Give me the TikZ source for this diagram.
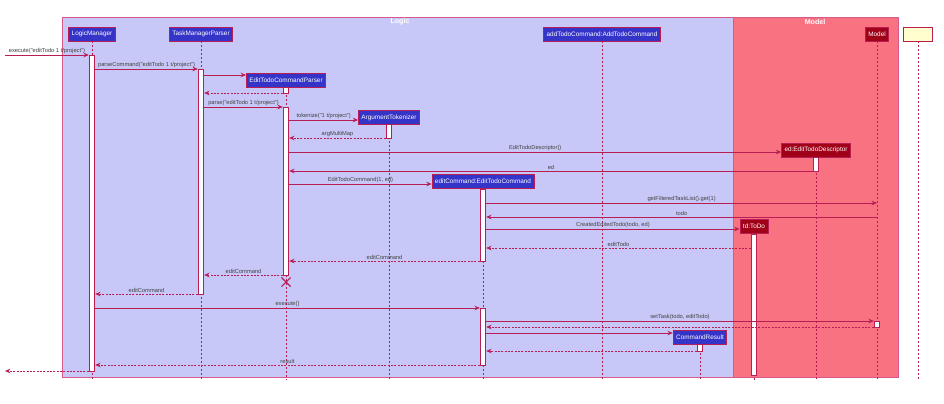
\documentclass[tikz,border=0pt]{standalone}
\usepackage{fontspec}
\setmainfont{Liberation Sans}
\usepackage{tikz}
\usetikzlibrary{arrows.meta,shapes.misc}
\usepackage{xcolor}

\definecolor{lnc}{RGB}{184,30,84}
\definecolor{frmc}{RGB}{214,90,140}
\definecolor{logicbg}{RGB}{200,200,248}
\definecolor{modelbg}{RGB}{248,114,130}
\definecolor{bluebox}{RGB}{52,52,200}
\definecolor{redbox}{RGB}{160,0,24}
\definecolor{yelbox}{RGB}{254,254,206}

\newcommand\mkact[4]{\node[actbar, minimum height={(#4-#3)*0.75pt}] (#1) at (#2,{(#3+#4)/2}) {};}

\begin{document}
\begin{tikzpicture}[x=0.75pt,y=-0.75pt,
    part/.style={draw=lnc, fill=bluebox, text=white, font=\fontsize{4.8}{5}\selectfont,
      minimum height=10.5pt, inner xsep=2.2pt, inner ysep=0pt, line width=0.6pt},
    mpart/.style={part, fill=redbox},
    actbar/.style={draw=lnc, fill=white, minimum width=4.2pt, inner sep=0pt, line width=0.6pt},
    life/.style={lnc, line width=0.5pt, dash pattern=on 1.5pt off 1.5pt},
    msg/.style={lnc, line width=0.55pt, -{Stealth[length=4pt,width=3.4pt]}},
    ret/.style={msg, dash pattern=on 1.5pt off 1pt},
    lbl/.style={font=\fontsize{4.3}{5}\selectfont, text=black!75, above, inner sep=0.6pt},
    frm/.style={draw=frmc, line width=0.7pt},
    ttl/.style={font=\fontsize{5.3}{6}\selectfont\bfseries, text=white}]
  \useasboundingbox (0,0) rectangle (944,403);

  % packages
  \draw[frm, fill=logicbg] (62,17) rectangle (733,377);
  \draw[frm, fill=modelbg] (733,17) rectangle (898,377);
  \node[ttl] (logicT) at (400,22) {Logic};
  \node[ttl] (modelT) at (815,22) {Model};

  % participants
  \node[part] (lm) at (92,34) {LogicManager};
  \node[part] (tmp) at (201,34) {TaskManagerParser};
  \node[part] (etcp) at (286,80) {EditTodoCommandParser};
  \node[part] (at) at (389,117.5) {ArgumentTokenizer};
  \node[part] (add) at (602,34) {addTodoCommand:AddTodoCommand};
  \node[part] (ec) at (483,181.5) {editCommand:EditTodoCommand};
  \node[mpart] (ed) at (816,150) {ed:EditTodoDescriptor};
  \node[mpart] (model) at (877,34) {Model};
  \node[mpart] (td) at (754,226.5) {td:ToDo};
  \node[part] (cr) at (700,337.5) {CommandResult};
  \node[part, fill=yelbox, minimum width=22pt] (todo) at (918,34) {};

  \foreach \n in {lm,tmp,etcp,at,add,ec,ed,model,td,cr,todo}
    \draw[life] (\n.south) -- (\n.south |- 0,380);

  % activations
  \mkact{lmA}{92}{55}{371}
  \mkact{tmpA}{201}{69}{294}
  \mkact{etcpA1}{286}{87}{93}
  \mkact{etcpA2}{286}{107}{275}
  \mkact{atA}{389}{124}{138}
  \mkact{edA}{816}{157}{171}
  \mkact{ecA1}{483}{189}{261}
  \mkact{ecA2}{483}{308}{365}
  \mkact{modelA}{877}{321}{327}
  \mkact{tdA}{754}{234}{375}
  \mkact{crA}{700}{344}{351}
  \node[draw=lnc, cross out, line width=0.8pt, minimum size=6pt, inner sep=0pt] (etcpX) at (286,282) {};

  \coordinate (entry) at (5,55);
  \coordinate (exit) at (5,371);

  % messages
  \draw[msg] (entry) -- (lmA.west |- entry) node[lbl, midway] {execute("editTodo 1 t/project")};
  \draw[msg] (lmA.east |- 0,69) -- (tmpA.west |- 0,69) node[lbl, midway] {parseCommand("editTodo 1 t/project")};
  \draw[msg] (tmpA.east |- 0,75) -- (etcp.west |- 0,75);
  \draw[ret] (etcpA1.west |- 0,93) -- (tmpA.east |- 0,93);
  \draw[msg] (tmpA.east |- 0,107) -- (etcpA2.west |- 0,107) node[lbl, midway] {parse("editTodo 1 t/project")};
  \draw[msg] (etcpA2.east |- 0,120) -- (at.west |- 0,120) node[lbl, midway] {tokenize("1 t/project")};
  \draw[ret] (atA.west |- 0,138) -- (etcpA2.east |- 0,138) node[lbl, midway] {argMultiMap};
  \draw[msg] (etcpA2.east |- 0,152) -- (ed.west |- 0,152) node[lbl, midway] {EditTodoDescriptor()};
  \draw[msg] (edA.west |- 0,171) -- (etcpA2.east |- 0,171) node[lbl, midway] {ed};
  \draw[msg] (etcpA2.east |- 0,184) -- (ec.west |- 0,184) node[lbl, midway] {EditTodoCommand(1, ed)};
  \draw[msg] (ecA1.east |- 0,203) -- (model |- 0,203) node[lbl, midway] {getFilteredTaskList().get(1)};
  \draw[msg] (model |- 0,217) -- (ecA1.east |- 0,217) node[lbl, midway] {todo};
  \draw[msg] (ecA1.east |- 0,229) -- (td.west |- 0,229) node[lbl, midway] {CreatedEditedTodo(todo, ed)};
  \draw[ret] (tdA.west |- 0,248) -- (ecA1.east |- 0,248) node[lbl, midway] {editTodo};
  \draw[ret] (ecA1.west |- 0,261) -- (etcpA2.east |- 0,261) node[lbl, midway] {editCommand};
  \draw[ret] (etcpA2.west |- 0,275) -- (tmpA.east |- 0,275) node[lbl, midway] {editCommand};
  \draw[ret] (tmpA.west |- 0,294) -- (lmA.east |- 0,294) node[lbl, midway] {editCommand};
  \draw[msg] (lmA.east |- 0,308) -- (ecA2.west |- 0,308) node[lbl, midway] {execute()};
  \draw[msg] (ecA2.east |- 0,321) -- (modelA.west |- 0,321) node[lbl, midway] {setTask(todo, editTodo)};
  \draw[ret] (modelA.west |- 0,327) -- (ecA2.east |- 0,327);
  \draw[msg] (ecA2.east |- 0,333) -- (cr.west |- 0,333);
  \draw[ret] (crA.west |- 0,351) -- (ecA2.east |- 0,351);
  \draw[ret] (ecA2.west |- 0,365) -- (lmA.east |- 0,365) node[lbl, midway] {result};
  \draw[ret] (lmA.west |- 0,371) -- (exit);
\end{tikzpicture}
\end{document}
